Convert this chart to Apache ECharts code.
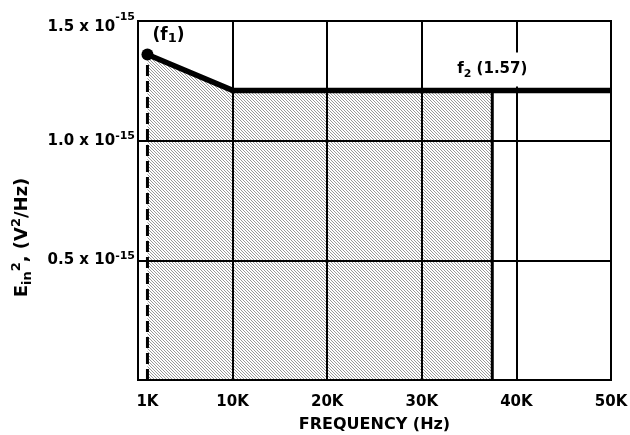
<!DOCTYPE html>
<html>
<head>
<meta charset="utf-8">
<script src="https://cdn.jsdelivr.net/npm/echarts@6/dist/echarts.min.js"></script>
<style>
  html, body { margin: 0; padding: 0; background: #fff; }
  #chart { width: 630px; height: 435px; }
</style>
</head>
<body>
<div id="chart"></div>
<script>
// ---- data (noise in units of 1e-15 V^2/Hz) ----
const curveFreqHz = [1000, 10000, 50000];
const curveNoise = [1.36, 1.21, 1.21];
const shadedFreqHz = [1000, 10000, 37450];
const shadedNoise = [1.36, 1.21, 1.21];
const f1Hz = 1000;
const f2Hz = 37450;
const f2Label = '(1.57)';
const xTickValues = [1000, 10000, 20000, 30000, 40000, 50000];
const xTickLabels = ['1K', '10K', '20K', '30K', '40K', '50K'];
const yTickValues = [0.5, 1.0, 1.5];
const yTickLabels = ['0.5', '1.0', '1.5'];
const yExponent = '-15';

const FONT = 'DejaVu Sans';

// hatch pattern
const tile = document.createElement('canvas');
tile.width = 3; tile.height = 3;
const tctx = tile.getContext('2d');
tctx.fillStyle = '#ffffff';
tctx.fillRect(0, 0, 3, 3);
tctx.fillStyle = '#999999';
for (let i = 0; i < 3; i++) tctx.fillRect(i, i, 1, 1);

const chart = echarts.init(document.getElementById('chart'), null, { renderer: 'canvas' });

const zip = (a, b) => a.map((v, i) => [v, b[i]]);

const curveData = zip(curveFreqHz, curveNoise).map((p, i) => {
  if (i === 0) {
    return {
      value: p,
      symbol: 'circle',
      symbolSize: 12,
      label: {
        show: true,
        position: 'right',
        distance: 0,
        offset: [-1, -19],
        formatter: '{t|(f}{s|1}{t|)}',
        rich: {
          t: { fontFamily: FONT, fontWeight: 'bold', fontSize: 17, lineHeight: 20, color: '#000', verticalAlign: 'middle' },
          s: { fontFamily: FONT, fontWeight: 'bold', fontSize: 13, lineHeight: 13, color: '#000', verticalAlign: 'bottom' }
        }
      }
    };
  }
  return { value: p, symbol: 'none' };
});

const f2Top = shadedNoise[shadedNoise.length - 1];

const option = {
  animation: false,
  backgroundColor: '#fff',
  grid: {
    left: 138, right: 19, top: 21, bottom: 55,
    outerBoundsMode: 'none',
    containLabel: false,
    show: true, borderColor: '#000', borderWidth: 2, backgroundColor: 'transparent'
  },
  xAxis: {
    type: 'value', min: 0, max: 50000, interval: 10000, z: 5,
    axisLine: { show: true, lineStyle: { color: '#000', width: 2 } },
    axisTick: { show: false },
    splitLine: { show: true, lineStyle: { color: '#000', width: 2 } },
    axisLabel: {
      customValues: xTickValues,
      margin: 15,
      fontFamily: FONT, fontWeight: 'bold', fontSize: 15, color: '#000',
      formatter: v => xTickLabels[xTickValues.indexOf(v)] || ''
    },
    name: 'FREQUENCY (Hz)',
    nameLocation: 'middle',
    nameGap: 37,
    nameTextStyle: { fontFamily: FONT, fontWeight: 'bold', fontSize: 16, color: '#000' }
  },
  yAxis: {
    type: 'value', min: 0, max: 1.5, interval: 0.5, z: 5,
    axisLine: { show: true, lineStyle: { color: '#000', width: 2 } },
    axisTick: { show: false },
    splitLine: { show: true, lineStyle: { color: '#000', width: 2 } },
    axisLabel: {
      customValues: yTickValues,
      margin: 3,
      formatter: v => {
        const i = yTickValues.indexOf(v);
        if (i < 0) return '';
        const k = i === yTickValues.length - 1 ? 't' : 'b';
        return '{' + k + '|' + yTickLabels[i] + ' x 10}{' + k + 's|' + yExponent + '}';
      },
      rich: {
        b: { fontFamily: FONT, fontWeight: 'bold', fontSize: 15, lineHeight: 20, color: '#000', verticalAlign: 'middle' },
        bs: { fontFamily: FONT, fontWeight: 'bold', fontSize: 11, lineHeight: 11, color: '#000', verticalAlign: 'top' },
        t: { fontFamily: FONT, fontWeight: 'bold', fontSize: 15, lineHeight: 20, padding: [12, 0, 0, 0], color: '#000', verticalAlign: 'middle' },
        ts: { fontFamily: FONT, fontWeight: 'bold', fontSize: 11, lineHeight: 11, padding: [1, 0, 0, 0], color: '#000', verticalAlign: 'top' }
      }
    },
    name: '{m|E}{sub|in}{sup|2}{m|, (V}{sup|2}{m|/Hz)}',
    nameLocation: 'middle',
    nameRotate: 90,
    nameGap: 104,
    nameTextStyle: {
      padding: [0, 74, 0, 0],
      rich: {
        m: { fontFamily: FONT, fontWeight: 'bold', fontSize: 18, lineHeight: 24, color: '#000', verticalAlign: 'middle' },
        sub: { fontFamily: FONT, fontWeight: 'bold', fontSize: 13, lineHeight: 13, color: '#000', verticalAlign: 'bottom' },
        sup: { fontFamily: FONT, fontWeight: 'bold', fontSize: 13, lineHeight: 13, color: '#000', verticalAlign: 'top' }
      }
    }
  },
  series: [
    {
      name: 'shaded',
      type: 'line',
      data: zip(shadedFreqHz, shadedNoise),
      symbol: 'none',
      silent: true,
      z: 1,
      lineStyle: { width: 0, opacity: 0 },
      areaStyle: { color: { image: tile, repeat: 'repeat' }, opacity: 1 }
    },
    {
      name: 'f1',
      type: 'line',
      data: [[f1Hz, 0], [f1Hz, curveNoise[0]]],
      symbol: 'none',
      z: 10,
      lineStyle: { color: '#000', width: 3, type: [11, 5] }
    },
    {
      name: 'f2',
      type: 'line',
      showSymbol: true,
      data: [
        { value: [f2Hz, 0], symbol: 'none' },
        {
          value: [f2Hz, f2Top],
          symbol: 'rect',
          symbolSize: [3, 2],
          label: {
            show: true,
            position: 'top',
            distance: 3,
            formatter: '{t|f}{s|2}{t| ' + f2Label + '}',
            backgroundColor: '#fff',
            padding: [7, 2, 7, 2],
            rich: {
              t: { fontFamily: FONT, fontWeight: 'bold', fontSize: 15, lineHeight: 20, color: '#000', verticalAlign: 'middle' },
              s: { fontFamily: FONT, fontWeight: 'bold', fontSize: 11, lineHeight: 11, color: '#000', verticalAlign: 'bottom' }
            }
          }
        }
      ],
      z: 10,
      itemStyle: { color: '#000' },
      lineStyle: { color: '#000', width: 3 }
    },
    {
      name: 'curve',
      type: 'line',
      data: curveData,
      z: 11,
      itemStyle: { color: '#000' },
      lineStyle: { color: '#000', width: 5.5 }
    }
  ]
};
chart.setOption(option);
</script>
</body>
</html>
